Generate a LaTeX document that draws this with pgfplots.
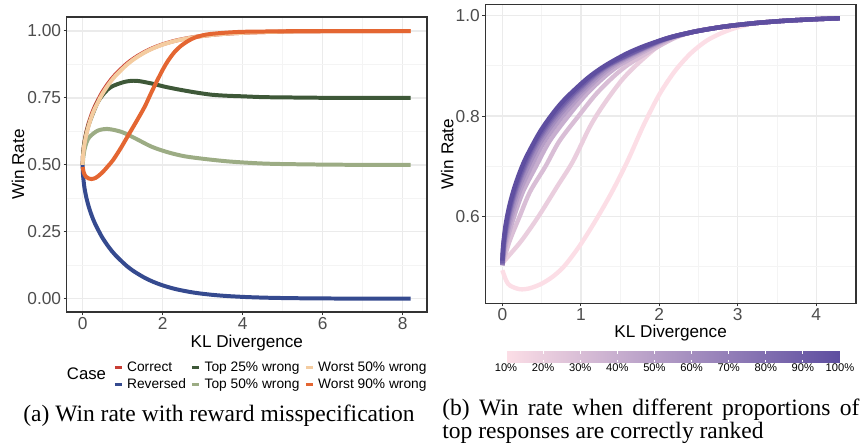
\documentclass[border=0pt]{standalone}
\usepackage{fontspec}
\setmainfont{Liberation Serif}
\setsansfont{Liberation Sans}
\usepackage{pgfplots}
\pgfplotsset{compat=1.18}

\definecolor{cCorrect}{RGB}{200,62,52}
\definecolor{cReversed}{RGB}{53,74,143}
\definecolor{cTop25}{RGB}{62,88,56}
\definecolor{cTop50}{RGB}{156,172,132}
\definecolor{cWorst50}{RGB}{244,204,160}
\definecolor{cWorst90}{RGB}{228,102,50}
\definecolor{gframe}{RGB}{51,51,51}
\definecolor{gtext}{RGB}{77,77,77}
\definecolor{ggrid}{RGB}{235,235,235}
\definecolor{ggridminor}{RGB}{244,244,244}
% pink -> purple ramp, 10% ... 100%
\definecolor{p10}{RGB}{252,222,230}
\definecolor{p20}{RGB}{234,206,222}
\definecolor{p30}{RGB}{217,190,214}
\definecolor{p40}{RGB}{199,174,207}
\definecolor{p50}{RGB}{182,158,199}
\definecolor{p60}{RGB}{164,142,191}
\definecolor{p70}{RGB}{147,126,183}
\definecolor{p80}{RGB}{129,110,176}
\definecolor{p90}{RGB}{112,94,168}
\definecolor{p100}{RGB}{94,78,160}

\pgfplotsset{
  ggbw/.style={
    scale only axis, anchor=south west,
    axis line style={gframe, line width=0.55pt},
    tick align=outside, tick pos=left,
    major tick length=1.6pt, minor tick length=0pt,
    tick style={gframe, line width=0.5pt},
    grid=both,
    major grid style={ggrid, line width=0.7pt},
    minor grid style={ggridminor, line width=0.45pt},
    ticklabel style={font=\sffamily\fontsize{8.7}{10}\selectfont, text=gtext, inner sep=1pt},
    label style={font=\sffamily\fontsize{8.6}{10}\selectfont, text=black},
    /pgf/number format/assume math mode=true,
  },
  wline/.style={line width=2pt, smooth, no markers},
  pline/.style={line width=2.2pt, smooth, no markers},
}

\begin{document}
\begin{tikzpicture}
\useasboundingbox (0,0) rectangle (432bp,223bp);

% ---------------- (a) ----------------
\begin{axis}[ggbw,
  at={(33.35bp,67bp)}, width=180.15bp, height=147.5bp,
  xmin=-0.4, xmax=8.61, ymin=-0.0497, ymax=1.0523,
  xtick={0,2,4,6,8}, minor xtick={1,3,5,7},
  ytick={0,0.25,0.5,0.75,1}, minor ytick={0.125,0.375,0.625,0.875},
  yticklabel style={/pgf/number format/.cd, fixed, fixed zerofill, precision=2},
  xlabel={KL Divergence}, ylabel={Win Rate},
  xlabel style={at={(axis description cs:0.5,-0.105)}, anchor=center},
  ylabel style={at={(axis description cs:-0.135,0.5)}, anchor=center},
  legend columns=2, transpose legend, legend cell align=left,
  legend style={at={(axis description cs:0.1285,-0.158)}, anchor=north west,
    draw=none, fill=none, inner sep=0pt, row sep=0pt,
    font=\sffamily\fontsize{6.9}{8}\selectfont,
    nodes={inner sep=0.5pt, text height=5.7pt, text depth=1.7pt},
    /tikz/every odd column/.append style={column sep=1.5pt},
    /tikz/every even column/.append style={column sep=2pt}},
  legend image code/.code={\draw[line width=1.4pt] (0pt,0pt) -- (3.5pt,0pt);},
]
\addplot[cCorrect, wline] coordinates {
 (0,0.5)(0.0006,0.51)(0.0026,0.5208)(0.01035,0.5415)(0.0407,0.582)(0.0888,0.6206)
 (0.1516,0.6565)(0.2255,0.6894)(0.3069,0.7191)(0.4794,0.7687)(0.6501,0.8068)
 (0.8092,0.8358)(1.0824,0.8753)(1.3031,0.9)(1.565,0.9231)(1.7726,0.9375)
 (1.9957,0.95)(2.2189,0.96)(2.4012,0.9667)(2.6889,0.975)(2.912,0.98)
 (3.2485,0.9857)(3.6052,0.99)(4.0106,0.9933)(4.2983,0.995)(4.7038,0.9967)
 (5.2146,0.998)(5.9078,0.999)(7.0064,0.9997)(8.2,0.9999)};
\addlegendentry{Correct}
\addplot[cReversed, wline] coordinates {
 (0,0.5)(0.0006,0.49)(0.0026,0.4792)(0.01035,0.4585)(0.0407,0.418)(0.0888,0.3794)
 (0.1516,0.3435)(0.2255,0.3106)(0.3069,0.2809)(0.4794,0.2313)(0.6501,0.1932)
 (0.8092,0.1642)(1.0824,0.1247)(1.3031,0.1)(1.565,0.0769)(1.7726,0.0625)
 (1.9957,0.05)(2.2189,0.04)(2.4012,0.0333)(2.6889,0.025)(2.912,0.02)
 (3.2485,0.0143)(3.6052,0.01)(4.0106,0.0067)(4.2983,0.005)(4.7038,0.0033)
 (5.2146,0.002)(5.9078,0.001)(7.0064,0.0003)(8.2,0.0001)};
\addlegendentry{Reversed}
\addplot[cTop25, wline] coordinates {
 (0,0.5)(0.01,0.54)(0.04,0.58)(0.09,0.618)(0.15,0.65)(0.25,0.69)(0.38,0.735)
 (0.55,0.77)(0.72,0.792)(1.05,0.81)(1.34,0.814)(1.72,0.804)(2.05,0.792)
 (2.38,0.782)(2.8,0.771)(3.22,0.762)(3.63,0.758)(4,0.756)(4.5,0.753)(5,0.752)
 (6,0.7505)(7,0.75)(8.2,0.75)};
\addlegendentry{Top 25\% wrong}
\addplot[cTop50, wline] coordinates {
 (0,0.5)(0.02,0.535)(0.05,0.56)(0.1,0.585)(0.175,0.605)(0.38,0.628)(0.63,0.634)
 (0.97,0.623)(1.3,0.6)(1.72,0.568)(2.13,0.547)(2.55,0.532)(3.05,0.522)
 (3.55,0.514)(4,0.509)(4.5,0.505)(5,0.503)(6,0.501)(7,0.5)(8.2,0.5)};
\addlegendentry{Top 50\% wrong}
\addplot[cWorst50, wline] coordinates {
 (0,0.5)(0.0026,0.518)(0.0104,0.536)(0.0407,0.574)(0.0888,0.612)(0.1516,0.648)
 (0.2255,0.682)(0.3069,0.712)(0.4794,0.762)(0.6501,0.801)(0.8092,0.831)
 (1.0824,0.871)(1.3031,0.897)(1.565,0.921)(1.7726,0.936)(1.9957,0.949)
 (2.2189,0.959)(2.4012,0.966)(2.6889,0.9745)(2.912,0.9797)(3.2485,0.9855)
 (3.6052,0.99)(4.0106,0.9933)(4.7038,0.9967)(5.9078,0.999)(8.2,0.9999)};
\addlegendentry{Worst 50\% wrong}
\addplot[cWorst90, wline] coordinates {
 (0,0.492)(0.03,0.47)(0.08,0.456)(0.15,0.449)(0.22,0.447)(0.32,0.451)(0.42,0.462)
 (0.52,0.476)(0.62,0.493)(0.76,0.518)(0.95,0.562)(1.13,0.608)(1.35,0.664)
 (1.55,0.717)(1.7,0.765)(1.84,0.808)(2.0,0.855)(2.13,0.888)(2.3,0.922)
 (2.47,0.946)(2.65,0.964)(2.8,0.975)(3.0,0.984)(3.2,0.989)(3.6,0.994)
 (4.0,0.997)(4.5,0.998)(5,0.999)(6,0.9997)(7,0.9999)(8.2,1.0)};
\addlegendentry{Worst 90\% wrong}
\end{axis}
\node[font=\sffamily\fontsize{8.4}{10}\selectfont, anchor=center] at (43.25bp,36.25bp) {Case};

% ---------------- (b) ----------------
\begin{axis}[ggbw,
  at={(242.65bp,71.35bp)}, width=185.35bp, height=149.3bp,
  xmin=-0.217, xmax=4.506, ymin=0.427, ymax=1.022,
  xtick={0,1,2,3,4}, minor xtick={0.5,1.5,2.5,3.5},
  ytick={0.6,0.8,1.0}, minor ytick={0.5,0.7,0.9},
  yticklabel style={/pgf/number format/.cd, fixed, fixed zerofill, precision=1},
  xlabel={KL Divergence}, ylabel={Win Rate},
  xlabel style={at={(axis description cs:0.5,-0.1)}, anchor=center},
  ylabel style={at={(axis description cs:-0.103,0.5)}, anchor=center},
  colormap={pinkpurple}{rgb255=(252,222,230) rgb255=(94,78,160)},
  point meta min=0.1, point meta max=1,
  colorbar horizontal,
  colorbar style={
    at={(parent axis.south west)}, anchor=north west,
    xshift=10.35bp, yshift=-15.5bp,
    scale only axis, width=167bp, height=5.5bp,
    xmin=0.1, xmax=1,
    xtick={0.1,0.2,0.3,0.4,0.5,0.6,0.7,0.8,0.9,1},
    xticklabels={10\%,20\%,30\%,40\%,50\%,60\%,70\%,80\%,90\%,100\%},
    xticklabel style={font=\sffamily\fontsize{5.6}{6}\selectfont, text=black, inner sep=0.5pt},
    axis line style={draw=none},
    tick align=inside, xtick pos=both, major tick length=1.1bp,
    tick style={white, line width=0.5pt},
    xticklabel pos=lower,
  },
]
\addplot[p10, pline] coordinates {
 (0,0.493)(0.05,0.472)(0.1,0.462)(0.225,0.455)(0.35,0.457)(0.5,0.466)(0.65,0.481)
 (0.8,0.503)(1.0,0.545)(1.2,0.595)(1.4,0.65)(1.6,0.712)(1.8,0.782)(2.0,0.843)
 (2.2,0.89)(2.4,0.925)(2.6,0.95)(2.8,0.966)(3.0,0.977)(3.2485,0.9857)
 (3.6052,0.99)(4.0106,0.9933)(4.3,0.995)};
\addplot[p20, pline] coordinates {
 (0,0.507)(0.1,0.525)(0.25,0.553)(0.46,0.6)(0.7,0.66)(0.9,0.71)(1.12,0.78)
 (1.3,0.825)(1.54,0.875)(1.8,0.915)(2.1,0.952)(2.4012,0.9667)(2.6889,0.975)
 (2.912,0.98)(3.2485,0.9857)(3.6052,0.99)(4.0106,0.9933)(4.3,0.995)};
\addplot[p30, pline] coordinates {
 (0,0.503)(0.09,0.55)(0.22,0.6)(0.355,0.65)(0.55,0.7)(0.726,0.75)(0.97,0.8)
 (1.23,0.85)(1.58,0.9)(2.12,0.95)(2.4012,0.9667)(2.6889,0.975)(2.912,0.98)
 (3.2485,0.9857)(3.6052,0.99)(4.0106,0.9933)(4.3,0.995)};
\addplot[p40, pline] coordinates {
 (0,0.503)(0.055,0.55)(0.15,0.6)(0.265,0.65)(0.43,0.7)(0.602,0.75)(0.84,0.8)
 (1.11,0.85)(1.48,0.9)(2.08,0.95)(2.4012,0.9667)(2.6889,0.975)(2.912,0.98)
 (3.2485,0.9857)(3.6052,0.99)(4.0106,0.9933)(4.3,0.995)};
\addplot[p50, pline] coordinates {
 (0,0.503)(0.04,0.55)(0.12,0.6)(0.2225,0.65)(0.37,0.7)(0.538,0.75)(0.77,0.8)
 (1.05,0.85)(1.42,0.9)(2.05,0.95)(2.4012,0.9667)(2.6889,0.975)(2.912,0.98)
 (3.2485,0.9857)(3.6052,0.99)(4.0106,0.9933)(4.3,0.995)};
\addplot[p60, pline] coordinates {
 (0,0.503)(0.03,0.55)(0.1,0.6)(0.194,0.65)(0.33,0.7)(0.494,0.75)(0.72,0.8)
 (1.01,0.85)(1.38,0.9)(2.03,0.95)(2.4012,0.9667)(2.6889,0.975)(2.912,0.98)
 (3.2485,0.9857)(3.6052,0.99)(4.0106,0.9933)(4.3,0.995)};
\addplot[p70, pline] coordinates {
 (0,0.503)(0.025,0.55)(0.085,0.6)(0.173,0.65)(0.3,0.7)(0.462,0.75)(0.685,0.8)
 (0.975,0.85)(1.35,0.9)(2.02,0.95)(2.4012,0.9667)(2.6889,0.975)(2.912,0.98)
 (3.2485,0.9857)(3.6052,0.99)(4.0106,0.9933)(4.3,0.995)};
\addplot[p80, pline] coordinates {
 (0,0.505)(0.022,0.55)(0.075,0.6)(0.161,0.65)(0.285,0.7)(0.443,0.75)(0.66,0.8)
 (0.95,0.85)(1.335,0.9)(2.01,0.95)(2.4012,0.9667)(2.6889,0.975)(2.912,0.98)
 (3.2485,0.9857)(3.6052,0.99)(4.0106,0.9933)(4.3,0.995)};
\addplot[p90, pline] coordinates {
 (0,0.507)(0.02,0.55)(0.07,0.6)(0.152,0.65)(0.27,0.7)(0.425,0.75)(0.64,0.8)
 (0.93,0.85)(1.32,0.9)(2.0,0.95)(2.4012,0.9667)(2.6889,0.975)(2.912,0.98)
 (3.2485,0.9857)(3.6052,0.99)(4.0106,0.9933)(4.3,0.995)};
\addplot[p100, pline] coordinates {
 (0.0006,0.512)(0.0026,0.5208)(0.01035,0.5415)(0.0407,0.582)(0.0888,0.6206)
 (0.1516,0.6565)(0.2255,0.6894)(0.3069,0.7191)(0.4794,0.7687)(0.6501,0.8068)
 (0.8092,0.8358)(1.0824,0.8753)(1.3031,0.9)(1.565,0.9231)(1.7726,0.9375)
 (1.9957,0.95)(2.2189,0.96)(2.4012,0.9667)(2.6889,0.975)(2.912,0.98)
 (3.2485,0.9857)(3.6052,0.99)(4.0106,0.9933)(4.3,0.995)};
\end{axis}

% ---------------- captions ----------------
\node[font=\fontsize{11.8}{14}\selectfont, anchor=base] at (109.5bp,12.5bp)
  {(a) Win rate with reward misspecification};
\node[font=\fontsize{11.8}{14}\selectfont, anchor=base west, inner sep=0pt] at (221bp,15.5bp)
  {\makebox[208.5bp][s]{(b) Win rate when different proportions of}};
\node[font=\fontsize{11.8}{14}\selectfont, anchor=base west, inner sep=0pt] at (221bp,4bp)
  {top responses are correctly ranked};
\end{tikzpicture}
\end{document}
